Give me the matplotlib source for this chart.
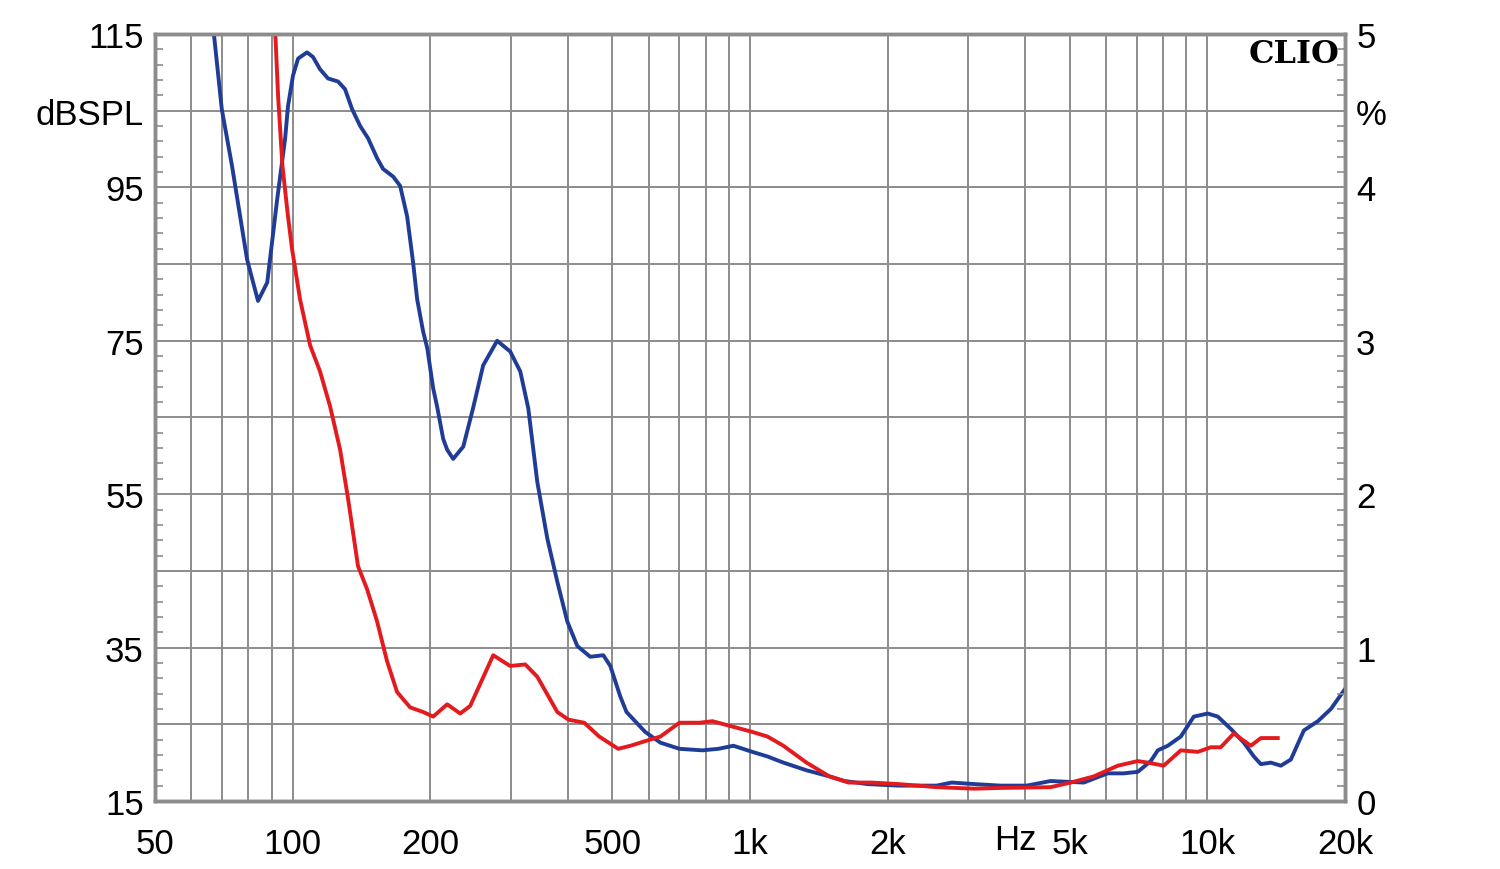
import numpy as np
import matplotlib
matplotlib.use("Agg")
import matplotlib.pyplot as plt
from matplotlib.ticker import FixedLocator, LogLocator, MultipleLocator, NullFormatter

# blue curve: frequency (Hz) and value (%)
blue_f = [67, 70, 73.7, 79.5, 84, 88, 92.5, 96.3, 97.7, 100.2, 102.8, 107.5, 110.8,
          114.8, 119.5, 125.7, 130.2, 134.9, 140.5, 146.2, 153, 157.7, 165.9, 171.8,
          178, 183.4, 187.2, 192.9, 197, 202.9, 207, 213.4, 217.7, 224.4, 236.1,
          248, 261, 280, 299, 314.6, 327.5, 342.7, 360.5, 379, 398.6, 419.2, 447.4,
          477.8, 495, 520.6, 537, 590, 637, 701, 787, 853, 920, 1012, 1092, 1183,
          1329, 1492, 1610, 1807, 2113, 2558, 2760, 3099, 3531, 4026, 4542, 5366,
          6056, 6563, 7045, 7521, 7791, 8193, 8749, 9340, 10022, 10539, 11251,
          12016, 12637, 13090, 13764, 14474, 15223, 16256, 17443, 18626, 20000]
blue_v = [5.05, 4.51, 4.14, 3.53, 3.26, 3.38, 3.92, 4.32, 4.53, 4.73, 4.84, 4.88,
          4.85, 4.77, 4.71, 4.69, 4.64, 4.51, 4.40, 4.32, 4.19, 4.12, 4.07, 4.01,
          3.81, 3.51, 3.27, 3.06, 2.95, 2.69, 2.57, 2.36, 2.29, 2.23, 2.31, 2.56,
          2.84, 3.00, 2.93, 2.80, 2.56, 2.08, 1.71, 1.43, 1.17, 1.01, 0.94, 0.95,
          0.88, 0.68, 0.58, 0.45, 0.38, 0.34, 0.33, 0.34, 0.36, 0.32, 0.29, 0.25,
          0.20, 0.16, 0.13, 0.11, 0.10, 0.10, 0.12, 0.11, 0.10, 0.10, 0.13, 0.12,
          0.18, 0.18, 0.19, 0.26, 0.33, 0.36, 0.42, 0.55, 0.57, 0.55, 0.47, 0.38,
          0.29, 0.24, 0.25, 0.23, 0.27, 0.46, 0.52, 0.60, 0.73]

# red curve
red_f = [91.5, 93, 95, 97.7, 99.7, 103.8, 109.2, 114.8, 120.8, 127, 132.2, 139,
         145.5, 153, 160.9, 169.2, 180.7, 192.9, 202.9, 217.7, 232.5, 244.5, 274.5,
         299, 322.6, 342.7, 379, 401, 434, 468, 515, 548, 590, 637, 701, 775, 828,
         902, 1012, 1092, 1183, 1329, 1492, 1642, 1843, 2113, 2558, 3099, 3531,
         4542, 5025, 5644, 6370, 7045, 7407, 8028, 8749, 9529, 10174, 10698, 11424,
         12444, 13090, 14253]
red_v = [5.05, 4.58, 4.14, 3.81, 3.60, 3.27, 2.97, 2.80, 2.57, 2.29, 1.97, 1.53,
         1.38, 1.17, 0.91, 0.71, 0.61, 0.58, 0.55, 0.63, 0.57, 0.62, 0.95, 0.88,
         0.89, 0.81, 0.58, 0.53, 0.51, 0.42, 0.34, 0.36, 0.39, 0.42, 0.51, 0.51,
         0.52, 0.49, 0.45, 0.42, 0.36, 0.25, 0.16, 0.12, 0.12, 0.11, 0.09, 0.08,
         0.085, 0.09, 0.12, 0.16, 0.23, 0.26, 0.25, 0.23, 0.33, 0.32, 0.35, 0.35,
         0.44, 0.36, 0.41, 0.41]

x_ticks = [50, 100, 200, 500, 1000, 2000, 5000, 10000, 20000]
x_labels = ["50", "100", "200", "500", "1k", "2k", "5k", "10k", "20k"]
y_ticks = np.arange(0, 5.01, 0.5)
left_labels = ["15", "", "35", "", "55", "", "75", "", "95", "dBSPL", "115"]
right_labels = ["0", "", "1", "", "2", "", "3", "", "4", "%", "5"]

plt.rcParams["font.family"] = ["Liberation Sans", "DejaVu Sans"]
grid_c = "#8c8c8c"

fig = plt.figure(figsize=(15, 8.7), dpi=100)
ax = fig.add_axes([0.1033, 0.0782, 0.7934, 0.8816])
ax.set_xscale("log")
ax.set_xlim(50, 20000)
ax.set_ylim(0, 5)

ax.plot(blue_f, blue_v, color="#1f3d96", lw=2.8, zorder=3, solid_joinstyle="round")
ax.plot(red_f, red_v, color="#e31b1f", lw=2.8, zorder=3, solid_joinstyle="round")

ax.xaxis.set_major_locator(FixedLocator(x_ticks))
ax.set_xticklabels(x_labels)
ax.xaxis.set_minor_locator(LogLocator(base=10, subs=np.arange(1, 10)))
ax.xaxis.set_minor_formatter(NullFormatter())
ax.set_yticks(y_ticks)
ax.set_yticklabels(left_labels)
ax.yaxis.set_minor_locator(MultipleLocator(0.1))

ax.grid(True, which="both", axis="x", color=grid_c, lw=1.4)
ax.grid(True, which="major", axis="y", color=grid_c, lw=1.4)
ax.tick_params(axis="x", which="both", length=0, labelsize=25, pad=19)
ax.tick_params(axis="y", which="major", length=0, labelsize=25, pad=8)
ax.tick_params(axis="y", which="minor", direction="in", length=6, width=1.2,
               color=grid_c)

ax2 = ax.twinx()
ax2.set_ylim(0, 5)
ax2.set_yticks(y_ticks)
ax2.set_yticklabels(right_labels)
ax2.yaxis.set_minor_locator(MultipleLocator(0.1))
ax2.tick_params(axis="y", which="major", length=0, labelsize=25, pad=8)
ax2.tick_params(axis="y", which="minor", direction="in", length=6, width=1.2,
                color=grid_c)

for a in (ax, ax2):
    for s in a.spines.values():
        s.set_color(grid_c)
        s.set_linewidth(2.5)

ax.text(3800, -0.25, "Hz", fontsize=25, ha="center", va="center")
ax.text(0.995, 0.995, "CLIO", transform=ax.transAxes, fontsize=23,
        fontweight="bold", family="DejaVu Serif", ha="right", va="top")

fig.savefig("out.png", dpi=100)
